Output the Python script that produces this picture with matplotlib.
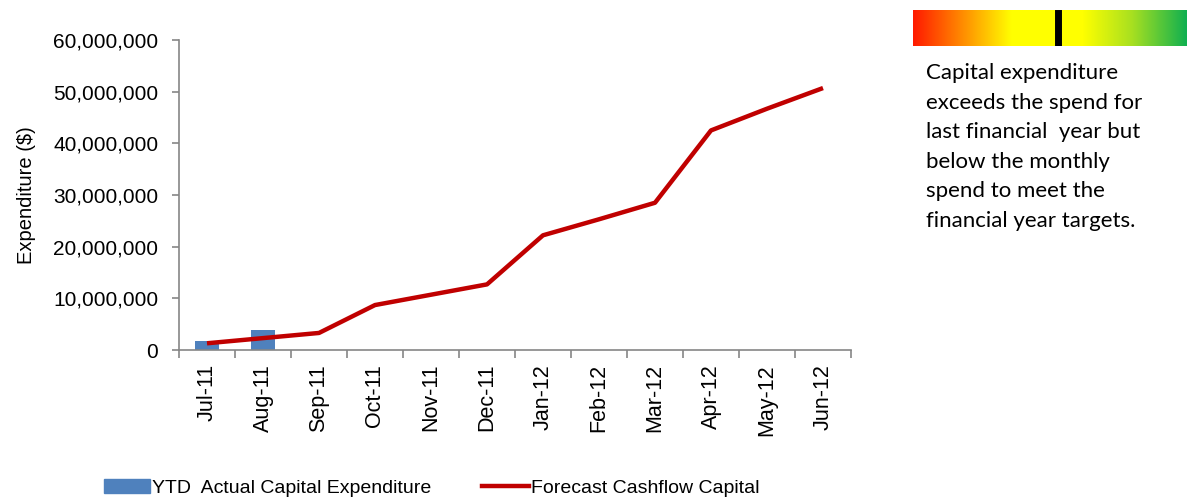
import numpy as np
import matplotlib
matplotlib.use('Agg')
import matplotlib.pyplot as plt
from matplotlib.colors import LinearSegmentedColormap
from matplotlib.patches import Patch
from matplotlib.lines import Line2D
from matplotlib.ticker import FuncFormatter, FixedLocator

plt.rcParams['font.family'] = ['Liberation Sans', 'DejaVu Sans']

months = ['Jul-11', 'Aug-11', 'Sep-11', 'Oct-11', 'Nov-11', 'Dec-11',
          'Jan-12', 'Feb-12', 'Mar-12', 'Apr-12', 'May-12', 'Jun-12']
ytd_actual = [1.7e6, 3.9e6]
forecast = [1.3e6, 2.3e6, 3.3e6, 8.7e6, 10.7e6, 12.7e6,
            22.2e6, 25.3e6, 28.5e6, 42.5e6, 46.7e6, 50.7e6]
status_pos = 0.53  # position of the black marker on the colour scale
comment = ("Capital expenditure\nexceeds the spend for\nlast financial  year but\n"
           "below the monthly\nspend to meet the\nfinancial year targets.")

fig = plt.figure(figsize=(11.87, 4.97), dpi=100)
ax = fig.add_axes([179/1187, 147/497, 672/1187, 310/497])

x = np.arange(len(months))
ax.bar(x[:len(ytd_actual)], ytd_actual, width=0.43, color='#4F81BD', zorder=2)
ax.plot(x, forecast, color='#C00000', lw=3.2, zorder=3, solid_capstyle='butt')

ax.set_xlim(-0.5, len(months) - 0.5)
ax.set_ylim(0, 60e6)
ax.set_yticks(np.arange(0, 60e6 + 1, 10e6))
ax.yaxis.set_major_formatter(FuncFormatter(lambda v, p: f'{int(v):,}'))
ax.set_xticks(x)
ax.set_xticklabels(months, rotation=90, fontsize=15.5)
ax.xaxis.set_minor_locator(FixedLocator(np.arange(-0.5, len(months), 1)))
ax.tick_params(axis='x', which='major', length=0, pad=10)
ax.tick_params(axis='x', which='minor', length=6, color='#868686', width=1.2)
ax.tick_params(axis='y', labelsize=15, length=5, color='#868686', width=1.2, pad=10)
for s in ['top', 'right']:
    ax.spines[s].set_visible(False)
for s in ['left', 'bottom']:
    ax.spines[s].set_color('#868686')
    ax.spines[s].set_linewidth(1.2)
ax.set_ylabel('Expenditure ($)', fontsize=14.5, labelpad=12)

handles = [Patch(color='#4F81BD'), Line2D([0], [0], color='#C00000', lw=3.2)]
fig.legend(handles, ['YTD  Actual Capital Expenditure', 'Forecast Cashflow Capital'],
           loc='lower left', bbox_to_anchor=(86/1187, -0.035), ncol=2, frameon=False,
           fontsize=14, handlelength=2.4, handletextpad=0.1, columnspacing=2.6)

# status colour scale
cmap = LinearSegmentedColormap.from_list('status', [
    (0.0, '#FF1A00'), (0.18, '#FF8C00'), (0.36, '#FFFF00'),
    (0.62, '#FFFF00'), (0.8, '#A8E020'), (1.0, '#10B050')])
gax = fig.add_axes([913/1187, 451/497, 274/1187, 36/497])
gax.imshow(np.linspace(0, 1, 256)[None, :], aspect='auto', cmap=cmap,
           extent=[0, 1, 0, 1])
gax.axvline(status_pos, ymin=0.08, ymax=0.92, color='black', lw=5)
gax.set_xlim(0, 1)
gax.axis('off')

fig.text(926/1187, 1 - 63/497, comment, fontsize=16, va='top', ha='left',
         linespacing=1.6, family=['Lato', 'DejaVu Sans'])

fig.savefig('out.png', dpi=100)
